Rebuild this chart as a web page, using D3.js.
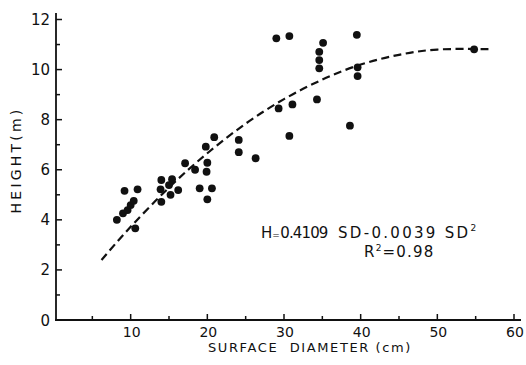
<!DOCTYPE html>
<html><head><meta charset="utf-8">
<script src="https://cdn.jsdelivr.net/npm/d3@7/dist/d3.min.js"></script>
<style>
body{margin:0;background:#fff;}
svg text{font-family:"DejaVu Sans",sans-serif;fill:#111;}
</style></head>
<body><svg id="c" width="526" height="365"></svg>
<script>
// Data
const diameter = [8.2,9.0,9.6,10.0,10.4,10.6,9.2,10.9,13.9,14.0,14.0,15.4,15.0,15.2,16.2,17.1,18.4,19.9,20.0,19.8,20.9,19.0,20.6,20.0,24.1,24.1,26.3,29.0,30.7,29.3,31.1,30.7,34.3,34.6,34.6,34.6,35.1,38.6,39.5,39.6,39.6,54.8];
const height   = [4.0,4.26,4.39,4.59,4.76,3.66,5.16,5.22,5.22,4.72,5.59,5.62,5.39,5.0,5.19,6.26,6.0,5.92,6.28,6.92,7.3,5.26,5.26,4.82,7.19,6.7,6.46,11.25,11.34,8.45,8.61,7.35,8.81,10.05,10.38,10.71,11.07,7.76,11.39,10.09,9.74,10.81];
// Fitted curve
const fitX = [6.2,10,15,20,25,30,35,40,45,50,55,57];
const fitY = [2.40,3.72,5.29,6.66,7.84,8.82,9.60,10.20,10.59,10.80,10.82,10.82];
const xTicks = [10,20,30,40,50,60];
const xMinor = [5,15,25,35,45,55];
const yTicks = [0,2,4,6,8,10,12];
const yMinor = [1,3,5,7,9,11];

const svg = d3.select("#c");
const x = d3.scaleLinear().domain([0,60]).range([54,514]);
const y = d3.scaleLinear().domain([0,12]).range([320,19.5]);

// axes lines
svg.append("line").attr("x1",56).attr("x2",56).attr("y1",13).attr("y2",y(0))
  .attr("stroke","#111").attr("stroke-width",1.8);
svg.append("line").attr("x1",55).attr("x2",521).attr("y1",y(0)).attr("y2",y(0))
  .attr("stroke","#111").attr("stroke-width",1.8);

// x ticks (inward)
svg.selectAll(".xt").data(xTicks).join("line")
  .attr("x1",d=>x(d)).attr("x2",d=>x(d)).attr("y1",y(0)).attr("y2",y(0)-6)
  .attr("stroke","#111").attr("stroke-width",1.5);
svg.selectAll(".xm").data(xMinor).join("line")
  .attr("x1",d=>x(d)).attr("x2",d=>x(d)).attr("y1",y(0)).attr("y2",y(0)-4)
  .attr("stroke","#111").attr("stroke-width",1.5);
svg.selectAll(".xl").data(xTicks).join("text")
  .attr("x",d=>x(d)+1).attr("y",337).attr("text-anchor","middle")
  .attr("font-size",14).text(d=>d);

// y ticks (inward)
svg.selectAll(".yt").data(yTicks).join("line")
  .attr("x1",56).attr("x2",62).attr("y1",d=>y(d)).attr("y2",d=>y(d))
  .attr("stroke","#111").attr("stroke-width",1.5);
svg.selectAll(".ym").data(yMinor).join("line")
  .attr("x1",56).attr("x2",60).attr("y1",d=>y(d)).attr("y2",d=>y(d))
  .attr("stroke","#111").attr("stroke-width",1.5);
svg.selectAll(".yl").data(yTicks).join("text")
  .attr("x",50).attr("y",d=>y(d)+5.5).attr("text-anchor","end")
  .attr("font-size",15).text(d=>d);

// axis titles
svg.append("text").attr("x",310).attr("y",352).attr("text-anchor","middle")
  .attr("font-size",13).attr("letter-spacing",1.6).style("white-space","pre")
  .text("SURFACE  DIAMETER (cm)");
svg.append("text").attr("transform","translate(21,160) rotate(-90)")
  .attr("text-anchor","middle").attr("font-size",14).attr("letter-spacing",3.2).text("HEIGHT(m)");

// fitted curve
const line = d3.line().x(d=>x(d[0])).y(d=>y(d[1])).curve(d3.curveNatural);
svg.append("path").datum(fitX.map((v,i)=>[v,fitY[i]]))
  .attr("d",line).attr("fill","none").attr("stroke","#111")
  .attr("stroke-width",2.2).attr("stroke-dasharray","8,4.5");

// points
svg.selectAll(".pt").data(diameter.map((v,i)=>[v,height[i]])).join("circle")
  .attr("cx",d=>x(d[0])).attr("cy",d=>y(d[1])).attr("r",3.9).attr("fill","#111");

// equation
const h = svg.append("text").attr("x",261).attr("y",238).attr("font-size",15);
h.append("tspan").text("H");
h.append("tspan").attr("font-size",9).text("=");
h.append("tspan").attr("dx",0.5).attr("letter-spacing",-0.9).text("0.4109");
const eq = svg.append("text").attr("x",338).attr("y",238).attr("font-size",15)
  .attr("letter-spacing",2.3).style("white-space","pre");
eq.append("tspan").text("SD-0.0039 SD");
eq.append("tspan").attr("dy",-7).attr("font-size",9).text("2");
const r2 = svg.append("text").attr("x",364).attr("y",257).attr("font-size",15)
  .attr("letter-spacing",1.2);
r2.append("tspan").text("R");
r2.append("tspan").attr("dy",-6).attr("font-size",9).text("2");
r2.append("tspan").attr("dy",6).text("=0.98");
</script></body></html>
